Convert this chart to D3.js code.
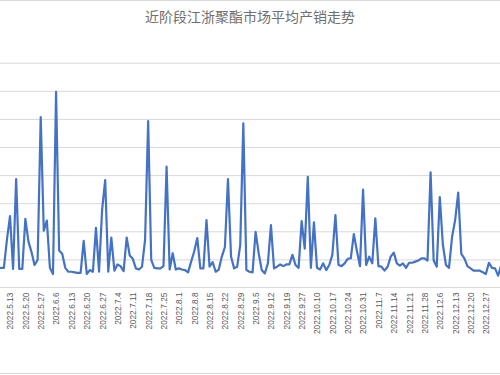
<!DOCTYPE html>
<html><head><meta charset="utf-8">
<script src="https://cdn.jsdelivr.net/npm/d3@7"></script>
<style>body{margin:0;background:#fff}svg{display:block}</style>
</head><body><svg id="c" width="500" height="375"></svg>
<script>
const title = "近阶段江浙聚酯市场平均产销走势";
const categories = [
"2022.5.10","2022.5.11","2022.5.12","2022.5.13",
"2022.5.16","2022.5.17","2022.5.18","2022.5.19","2022.5.20",
"2022.5.23","2022.5.24","2022.5.25","2022.5.26","2022.5.27",
"2022.5.30","2022.5.31","2022.6.1","2022.6.2","2022.6.6",
"2022.6.7","2022.6.8","2022.6.9","2022.6.10","2022.6.13",
"2022.6.14","2022.6.15","2022.6.16","2022.6.17","2022.6.20",
"2022.6.21","2022.6.22","2022.6.23","2022.6.24","2022.6.27",
"2022.6.28","2022.6.29","2022.6.30","2022.7.1","2022.7.4",
"2022.7.5","2022.7.6","2022.7.7","2022.7.8","2022.7.11",
"2022.7.12","2022.7.13","2022.7.14","2022.7.15","2022.7.18",
"2022.7.19","2022.7.20","2022.7.21","2022.7.22","2022.7.25",
"2022.7.26","2022.7.27","2022.7.28","2022.7.29","2022.8.1",
"2022.8.2","2022.8.3","2022.8.4","2022.8.5","2022.8.8",
"2022.8.9","2022.8.10","2022.8.11","2022.8.12","2022.8.15",
"2022.8.16","2022.8.17","2022.8.18","2022.8.19","2022.8.22",
"2022.8.23","2022.8.24","2022.8.25","2022.8.26","2022.8.29",
"2022.8.30","2022.8.31","2022.9.1","2022.9.2","2022.9.5",
"2022.9.6","2022.9.7","2022.9.8","2022.9.9","2022.9.12",
"2022.9.13","2022.9.14","2022.9.15","2022.9.16","2022.9.19",
"2022.9.20","2022.9.21","2022.9.22","2022.9.23","2022.9.27",
"2022.9.28","2022.9.29","2022.9.30","2022.10.9","2022.10.10",
"2022.10.11","2022.10.12","2022.10.13","2022.10.14","2022.10.17",
"2022.10.18","2022.10.19","2022.10.20","2022.10.21","2022.10.24",
"2022.10.25","2022.10.26","2022.10.27","2022.10.28","2022.10.31",
"2022.11.1","2022.11.2","2022.11.3","2022.11.4","2022.11.7",
"2022.11.8","2022.11.9","2022.11.10","2022.11.11","2022.11.14",
"2022.11.15","2022.11.16","2022.11.17","2022.11.18","2022.11.21",
"2022.11.22","2022.11.23","2022.11.24","2022.11.25","2022.11.28",
"2022.11.29","2022.11.30","2022.12.1","2022.12.2","2022.12.6",
"2022.12.7","2022.12.8","2022.12.9","2022.12.12","2022.12.13",
"2022.12.14","2022.12.15","2022.12.16","2022.12.19","2022.12.20",
"2022.12.21","2022.12.22","2022.12.23","2022.12.26","2022.12.27",
"2022.12.28","2022.12.29","2022.12.30","2023.1.3","2023.1.4"
];
const values = [
35,35,85,127,
33,193,33,33,122,
82,63,40,49,303,
101,119,35,24,348,
66,60,35,28,28,
27,26,26,83,24,
31,28,106,28,138,
191,28,89,30,41,
38,29,89,57,51,
34,32,37,85,296,
49,35,34,34,38,
215,32,61,32,34,
32,31,27,46,64,
88,34,34,120,37,
45,28,32,55,72,
193,55,34,37,76,
292,31,28,27,99,
61,31,25,43,111,
34,37,41,38,41,
41,58,40,35,118,
69,197,35,116,35,
32,43,31,40,58,
129,40,38,43,51,
52,95,65,38,174,
40,55,43,123,38,
37,30,37,55,62,
43,39,43,35,44,
44,46,48,52,52,
48,205,48,37,161,
76,40,35,90,120,
169,60,52,38,34,
30,30,30,27,24,
44,35,34,21,40
];
const tickLabels = [
"2022.5.13","2022.5.20","2022.5.27","2022.6.6","2022.6.13","2022.6.20","2022.6.27",
"2022.7.4","2022.7.11","2022.7.18","2022.7.25","2022.8.1","2022.8.8","2022.8.15",
"2022.8.22","2022.8.29","2022.9.5","2022.9.12","2022.9.19","2022.9.27","2022.10.10",
"2022.10.17","2022.10.24","2022.10.31","2022.11.7","2022.11.14","2022.11.21",
"2022.11.28","2022.12.6","2022.12.13","2022.12.20","2022.12.27"
];
const yTicks = [50,100,150,200,250,300,350,400];

const W = 500, H = 375;
const svg = d3.select("#c");
svg.append("rect").attr("x",-5).attr("y",0.5).attr("width",W+10).attr("height",373)
  .attr("fill","#fff").attr("stroke","#d9d9d9").attr("stroke-width",1);

const x = d3.scalePoint().domain(categories).range([0.8, 501.2]);
const y = d3.scaleLinear().domain([0,400]).range([287.5, 62.7]);

svg.append("text").attr("x",250).attr("y",21.5).attr("text-anchor","middle")
  .attr("font-family","'Noto Sans CJK SC', sans-serif").attr("font-size",14)
  .attr("fill","#6e6e6e").text(title);

// gridlines
svg.append("g").attr("transform","translate(-5,0)")
  .call(d3.axisLeft(y).tickValues(yTicks).tickSize(-(W+10)).tickFormat(""))
  .call(g=>g.select(".domain").remove())
  .selectAll("line").attr("stroke","#d9d9d9").attr("stroke-width",1);

// x axis
const gx = svg.append("g").attr("transform",`translate(0,${y(0)})`)
  .call(d3.axisBottom(x).tickValues(tickLabels).tickSize(0));
gx.select(".domain").remove();
gx.append("line").attr("x1",-5).attr("x2",W+5).attr("y1",0).attr("y2",0)
  .attr("stroke","#d9d9d9").attr("stroke-width",1);
gx.selectAll("text")
  .attr("transform","rotate(-90)")
  .attr("text-anchor","end")
  .attr("x",-5).attr("y",0).attr("dy","0.35em")
  .attr("font-family","'Liberation Sans', Arial, sans-serif")
  .attr("font-size",8.3).attr("fill","#595959");

const line = d3.line().x((d,i)=>x(categories[i])).y(d=>y(d));
svg.append("path").datum(values).attr("d",line)
  .attr("fill","none").attr("stroke","#4472C4").attr("stroke-width",2.2)
  .attr("stroke-linejoin","round").attr("stroke-linecap","round");
</script></body></html>
